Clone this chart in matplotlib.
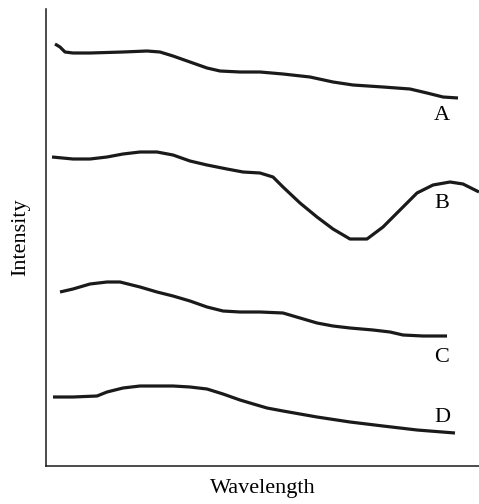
import matplotlib
matplotlib.use("Agg")
from matplotlib import pyplot as plt

# curves (x: wavelength, arbitrary units; y: intensity, arbitrary units)
a_x = [9, 14, 19, 27, 44, 77, 101, 114, 127, 144, 161, 174, 194, 214, 237, 264, 287, 307, 337, 364, 381, 397, 412]
a_y = [422, 419, 414, 413, 413, 414, 415, 414, 410, 404, 398, 395, 394, 394, 392, 389, 384, 381, 379, 377, 373, 369, 368]

b_x = [6, 27, 44, 61, 77, 94, 111, 127, 144, 161, 181, 197, 214, 227, 237, 254, 271, 287, 304,
       321, 337, 354, 371, 387, 404, 417, 433]
b_y = [309, 307, 307, 309, 312, 314, 314, 311, 305, 301, 297, 294, 293, 289, 279, 263, 249, 237, 227,
       227, 239, 256, 273, 281, 284, 282, 274]

c_x = [14, 27, 44, 61, 74, 94, 111, 127, 144, 161, 177, 194, 214, 237, 254, 271, 287, 304, 327, 344, 357, 377, 401]
c_y = [174, 177, 182, 184, 184, 179, 174, 170, 165, 159, 155, 154, 154, 153, 148, 143, 140, 138, 136, 134, 131, 130, 130]

d_x = [7, 27, 51, 61, 77, 94, 127, 144, 161, 177, 194, 204, 221, 237, 271, 304, 337, 371, 409]
d_y = [69, 69, 70, 74, 78, 80, 80, 79, 77, 72, 66, 63, 58, 55, 49, 44, 40, 36, 33]

labels = ["A", "B", "C", "D"]
label_y = [351, 263, 109, 49]

plt.rcParams['font.family'] = ['Liberation Serif', 'DejaVu Serif']

fig = plt.figure(figsize=(4.79, 5.04), dpi=100)
ax = fig.add_axes([46 / 479, 38 / 504, 433 / 479, 457 / 504])

for xs, ys in [(a_x, a_y), (b_x, b_y), (c_x, c_y), (d_x, d_y)]:
    ax.plot(xs, ys, color="#1a1a1a", lw=2.3, solid_joinstyle="round", solid_capstyle="butt")

for lab, ly in zip(labels, label_y):
    ax.text(396, ly, lab, ha="center", va="center", fontsize=16)

ax.set_xlim(0, 433)
ax.set_ylim(0, 457)
ax.spines["top"].set_visible(False)
ax.spines["right"].set_visible(False)
for s in ["left", "bottom"]:
    ax.spines[s].set_linewidth(1.1)
    ax.spines[s].set_color("#1a1a1a")
ax.set_xticks([])
ax.set_yticks([])
ax.set_xlabel("Wavelength", fontsize=16, labelpad=9)
ax.set_ylabel("Intensity", fontsize=16, labelpad=11)

fig.savefig("out.png", dpi=100)
